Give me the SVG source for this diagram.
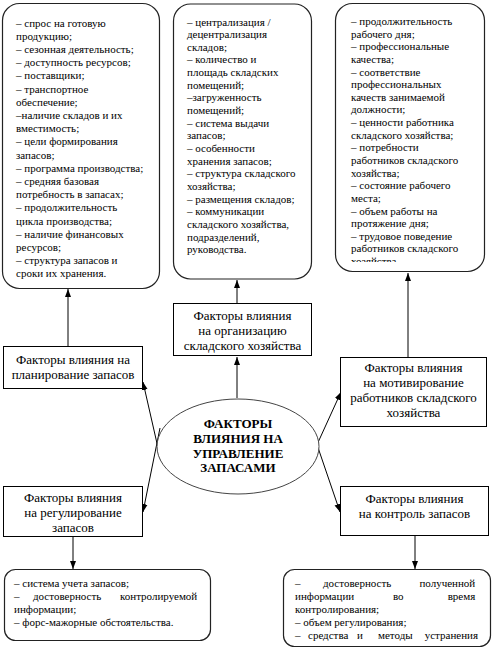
<svg xmlns="http://www.w3.org/2000/svg" width="493" height="651" viewBox="0 0 493 651">
<style>
.box{fill:#fff;stroke:#000;stroke-width:1}
.rbox{fill:#fff;stroke:#222;stroke-width:1.2}
.ell{fill:#fff;stroke:#444;stroke-width:1}
.lst{font-family:"Liberation Serif","Times New Roman",serif;font-size:11px;fill:#000}
.lbl{font-family:"Liberation Serif","Times New Roman",serif;font-size:13px;fill:#000;text-anchor:middle}
.ttl{font-family:"Liberation Serif","Times New Roman",serif;font-size:13px;font-weight:bold;fill:#000;text-anchor:middle}
.con{stroke:#000;stroke-width:1;fill:none;marker-end:url(#ah)}
</style>
<defs>
<marker id="ah" viewBox="0 0 8 8" refX="8" refY="4" markerWidth="8" markerHeight="8" markerUnits="userSpaceOnUse" orient="auto">
<path d="M0,1 L8,4 L0,7 z" fill="#000"/>
</marker>
<clipPath id="clipR"><rect x="335" y="2" width="150" height="260"/></clipPath>
</defs>
<rect width="493" height="651" fill="#fff"/>

<g id="connectors">
<line class="con" x1="68" y1="346" x2="68" y2="289"/>
<line class="con" x1="237" y1="398" x2="237" y2="357"/>
<line class="con" x1="237" y1="303" x2="237" y2="280"/>
<line class="con" x1="408" y1="357" x2="408" y2="273"/>
<line class="con" x1="161" y1="461" x2="143" y2="382"/>
<line class="con" x1="160" y1="428" x2="143" y2="512"/>
<line class="con" x1="310" y1="460" x2="341" y2="392"/>
<line class="con" x1="312" y1="430" x2="340" y2="512"/>
<line class="con" x1="73" y1="537" x2="73" y2="569"/>
<line class="con" x1="415" y1="536" x2="415" y2="569"/>
</g>

<g id="list-planning">
<rect class="rbox" x="2.5" y="3.5" width="157" height="285" rx="17"/>
<text class="lst" x="16">
<tspan x="16" y="26.5">– спрос на готовую</tspan>
<tspan x="16" y="39.7">продукцию;</tspan>
<tspan x="16" y="52.9">– сезонная деятельность;</tspan>
<tspan x="16" y="66.1">– доступность ресурсов;</tspan>
<tspan x="16" y="79.3">– поставщики;</tspan>
<tspan x="16" y="92.5">– транспортное</tspan>
<tspan x="16" y="105.7">обеспечение;</tspan>
<tspan x="16" y="118.9">–наличие складов и их</tspan>
<tspan x="16" y="132.1">вместимость;</tspan>
<tspan x="16" y="145.3">– цели формирования</tspan>
<tspan x="16" y="158.5">запасов;</tspan>
<tspan x="16" y="171.7">– программа производства;</tspan>
<tspan x="16" y="184.9">– средняя базовая</tspan>
<tspan x="16" y="198.1">потребность в запасах;</tspan>
<tspan x="16" y="211.3">– продолжительность</tspan>
<tspan x="16" y="224.5">цикла производства;</tspan>
<tspan x="16" y="237.7">– наличие финансовых</tspan>
<tspan x="16" y="250.9">ресурсов;</tspan>
<tspan x="16" y="264.1">– структура запасов и</tspan>
<tspan x="16" y="277.3">сроки их хранения.</tspan>
</text>
</g>

<g id="list-organization">
<rect class="rbox" x="173.5" y="4" width="138" height="275" rx="17"/>
<text class="lst">
<tspan x="187" y="25.5">– централизация /</tspan>
<tspan x="187" y="38.1">децентрализация</tspan>
<tspan x="187" y="50.8">складов;</tspan>
<tspan x="187" y="63.4">– количество и</tspan>
<tspan x="187" y="76.1">площадь складских</tspan>
<tspan x="187" y="88.7">помещений;</tspan>
<tspan x="187" y="101.4">–загруженность</tspan>
<tspan x="187" y="114">помещений;</tspan>
<tspan x="187" y="126.7">– система выдачи</tspan>
<tspan x="187" y="139.3">запасов;</tspan>
<tspan x="187" y="152">– особенности</tspan>
<tspan x="187" y="164.6">хранения запасов;</tspan>
<tspan x="187" y="177.3">– структура складского</tspan>
<tspan x="187" y="189.9">хозяйства;</tspan>
<tspan x="187" y="202.6">– размещения складов;</tspan>
<tspan x="187" y="215.2">– коммуникации</tspan>
<tspan x="187" y="227.9">складского хозяйства,</tspan>
<tspan x="187" y="240.5">подразделений,</tspan>
<tspan x="187" y="253.2">руководства.</tspan>
</text>
</g>

<g id="list-motivation">
<rect class="rbox" x="335.5" y="3.5" width="149" height="268" rx="17"/>
<text class="lst" clip-path="url(#clipR)">
<tspan x="351" y="25">– продолжительность</tspan>
<tspan x="351" y="37.6">рабочего дня;</tspan>
<tspan x="351" y="50.3">– профессиональные</tspan>
<tspan x="351" y="62.9">качества;</tspan>
<tspan x="351" y="75.5">– соответствие</tspan>
<tspan x="351" y="88.2">профессиональных</tspan>
<tspan x="351" y="100.8">качеств занимаемой</tspan>
<tspan x="351" y="113.4">должности;</tspan>
<tspan x="351" y="126">– ценности работника</tspan>
<tspan x="351" y="138.7">складского хозяйства;</tspan>
<tspan x="351" y="151.3">– потребности</tspan>
<tspan x="351" y="163.9">работников складского</tspan>
<tspan x="351" y="176.6">хозяйства;</tspan>
<tspan x="351" y="189.2">– состояние рабочего</tspan>
<tspan x="351" y="201.8">места;</tspan>
<tspan x="351" y="214.5">– объем работы на</tspan>
<tspan x="351" y="227.1">протяжение дня;</tspan>
<tspan x="351" y="239.7">– трудовое поведение</tspan>
<tspan x="351" y="252.4">работников складского</tspan>
<tspan x="351" y="265">хозяйства.</tspan>
</text>
</g>

<g id="node-organization">
<rect class="box" x="173.5" y="303.5" width="138" height="52"/>
<text class="lbl"><tspan x="242.5" y="320">Факторы влияния</tspan><tspan x="242.5" y="335">на организацию</tspan><tspan x="242.5" y="350">складского хозяйства</tspan></text>
</g>

<g id="node-planning">
<rect class="box" x="3.5" y="346.5" width="139" height="42"/>
<text class="lbl"><tspan x="73" y="364">Факторы влияния на</tspan><tspan x="73" y="378.5">планирование запасов</tspan></text>
</g>

<g id="node-motivation">
<rect class="box" x="340.5" y="357.5" width="146" height="69"/>
<text class="lbl"><tspan x="413.5" y="372">Факторы влияния</tspan><tspan x="413.5" y="387">на мотивирование</tspan><tspan x="413.5" y="402">работников складского</tspan><tspan x="413.5" y="417">хозяйства</tspan></text>
</g>

<g id="node-center">
<ellipse class="ell" cx="238" cy="446.5" rx="81" ry="47.5"/>
<text class="ttl"><tspan x="238" y="427.5">ФАКТОРЫ</tspan><tspan x="238" y="443">ВЛИЯНИЯ НА</tspan><tspan x="238" y="457.5">УПРАВЛЕНИЕ</tspan><tspan x="238" y="472">ЗАПАСАМИ</tspan></text>
</g>

<g id="node-regulation">
<rect class="box" x="3.5" y="486.5" width="139" height="50"/>
<text class="lbl"><tspan x="73" y="502">Факторы влияния</tspan><tspan x="73" y="517">на регулирование</tspan><tspan x="73" y="532">запасов</tspan></text>
</g>

<g id="node-control">
<rect class="box" x="340.5" y="486.5" width="148" height="49"/>
<text class="lbl"><tspan x="414.5" y="503">Факторы влияния</tspan><tspan x="414.5" y="518">на контроль запасов</tspan></text>
</g>

<g id="list-regulation">
<rect class="rbox" x="4.5" y="569.5" width="206" height="71" rx="11"/>
<text class="lst">
<tspan x="14" y="586.5">– система учета запасов;</tspan>
<tspan x="14" y="599.5">–</tspan><tspan x="33" y="599.5">достоверность</tspan><tspan x="200" y="599.5" text-anchor="end">контролируемой</tspan>
<tspan x="14" y="612.5">информации;</tspan>
<tspan x="14" y="625.5">– форс-мажорные обстоятельства.</tspan>
</text>
</g>

<g id="list-control">
<rect class="rbox" x="283.5" y="569.5" width="207" height="77" rx="11"/>
<text class="lst">
<tspan x="295" y="587">–</tspan><tspan x="323" y="587">достоверность</tspan><tspan x="478" y="587" text-anchor="end">полученной</tspan>
<tspan x="295" y="600">информации</tspan><tspan x="393" y="600">во</tspan><tspan x="478" y="600" text-anchor="end">время</tspan>
<tspan x="295" y="613">контролирования;</tspan>
<tspan x="295" y="626">– объем регулирования;</tspan>
<tspan x="295" y="639">–</tspan><tspan x="308" y="639">средства</tspan><tspan x="357" y="639">и</tspan><tspan x="378" y="639">методы</tspan><tspan x="478" y="639" text-anchor="end">устранения</tspan>
</text>
</g>
</svg>
